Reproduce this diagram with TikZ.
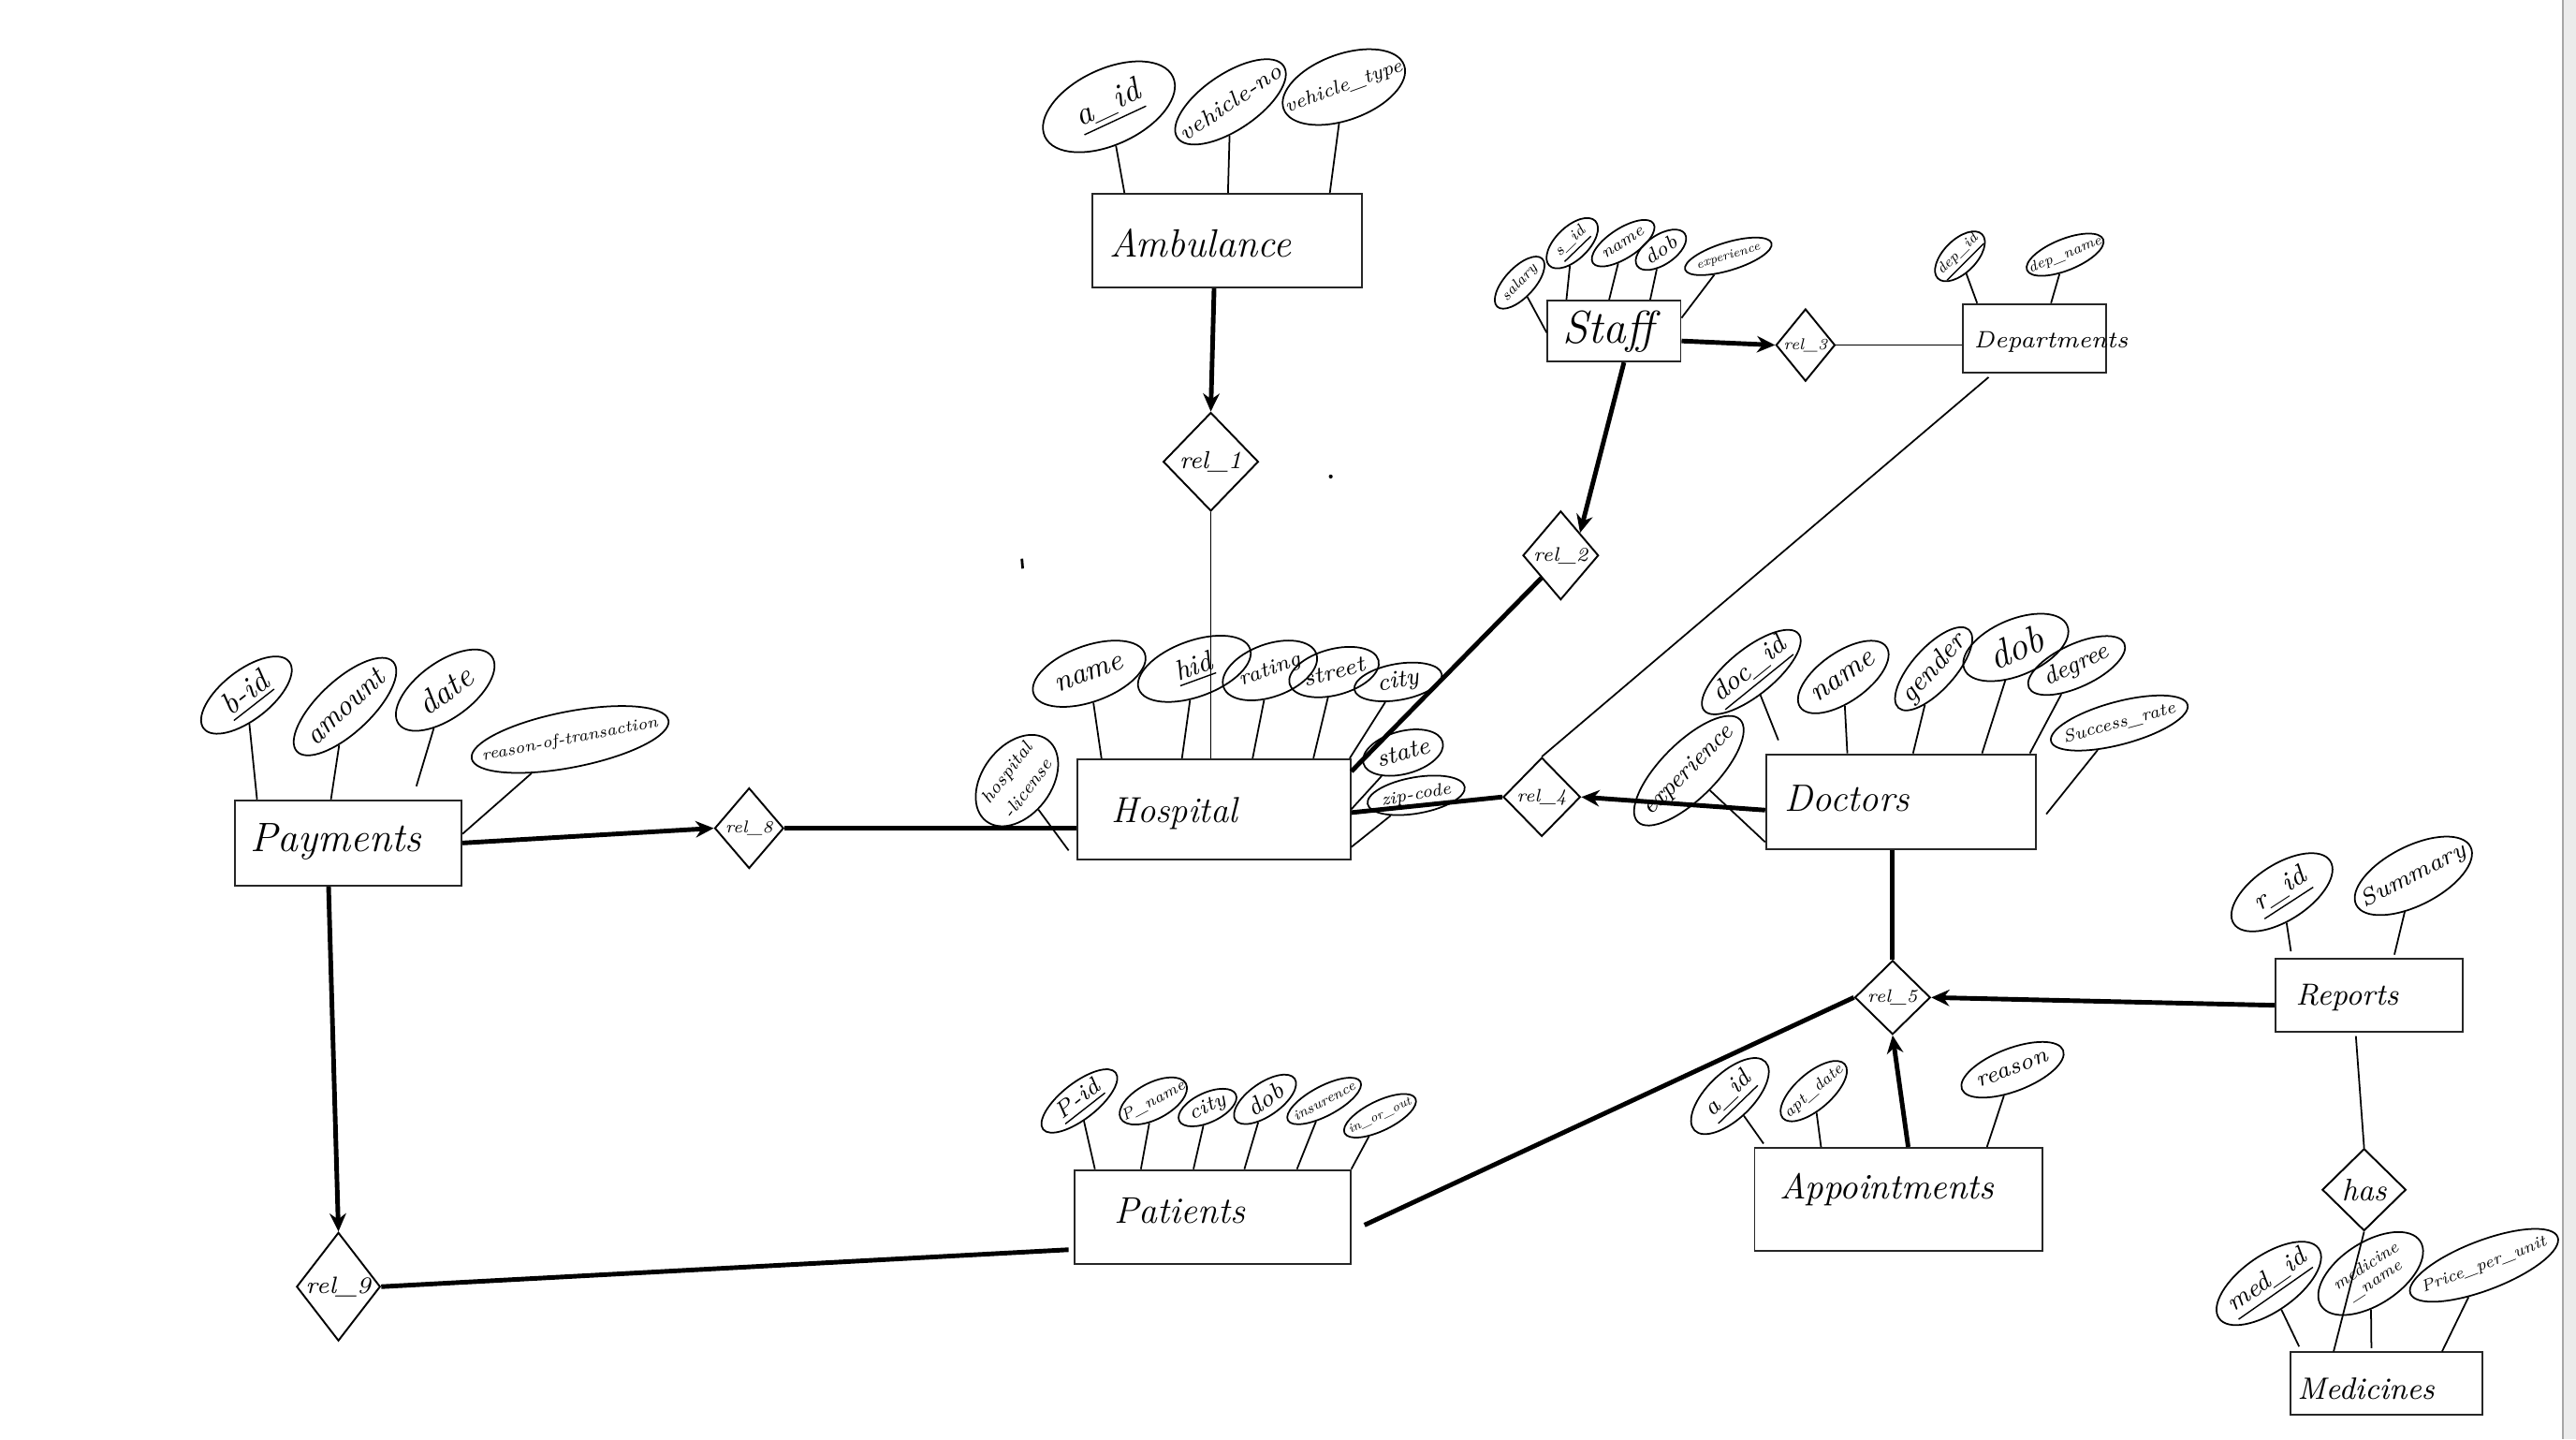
\documentclass[tikz,border=0pt]{standalone}
\usetikzlibrary{shapes.geometric,arrows.meta}
\newcommand\hsz[1]{\fontsize{#1}{#1}\selectfont\itshape}
\newcommand\zw[1]{\makebox[0pt]{#1}}
\begin{document}
\begin{tikzpicture}[x=0.5pt,y=-0.5pt,
  entity/.style={draw=black!85, line width=0.55pt, inner sep=0pt},
  etext/.style={anchor=west, inner sep=0pt},
  rel/.style={draw, diamond, aspect=1, inner sep=0pt, line width=0.55pt},
  attr/.style={draw, ellipse, inner sep=0pt, line width=0.5pt},
  conn/.style={line width=0.5pt},
  strong/.style={line width=1.4pt},
  arr/.style={strong, -{Stealth[length=5.5pt,width=5pt]}},
]
\useasboundingbox (0,0) rectangle (1568,876);
\fill[white] (0,0) rectangle (1568,876);
\fill[black!8] (1560,0) rectangle (1568,876);
\draw[black!35, line width=0.6pt] (1560,0) -- (1560,876);

% ---------- entities ----------
\node[entity, minimum width=82pt, minimum height=28.5pt] (amb) at (747,146.5) {};
\node[etext, font=\hsz{12}] (ambt) at (675,148) {Ambulance};
\node[entity, minimum width=40.5pt, minimum height=18.5pt] (staff) at (982.5,201.5) {};
\node[etext, font=\hsz{14}] (stafft) at (951,202) {Staff};
\node[entity, minimum width=43.5pt, minimum height=21pt] (dept) at (1238.5,206) {};
\node[etext, font=\hsz{7.2}] (deptt) at (1201,208) {Departments};
\node[entity, minimum width=83pt, minimum height=30.5pt] (hosp) at (739,492.5) {};
\node[etext, font=\hsz{11}] (hospt) at (676,495) {Hospital};
\node[entity, minimum width=69pt, minimum height=26pt] (pay) at (212,513) {};
\node[etext, font=\hsz{12.5}] (payt) at (152,512) {Payments};
\node[entity, minimum width=82pt, minimum height=29pt] (doc) at (1157,488) {};
\node[etext, font=\hsz{11.6}] (doct) at (1086,486) {Doctors};
\node[entity, minimum width=84pt, minimum height=28.5pt] (pat) at (738,740.5) {};
\node[etext, font=\hsz{11.3}] (patt) at (678,737) {Patients};
\node[entity, minimum width=87.5pt, minimum height=31.25pt] (appt) at (1155.5,729.75) {};
\node[etext, font=\hsz{10.9}] (apptt) at (1083,724) {Appointments};
\node[entity, minimum width=57pt, minimum height=22.25pt] (rep) at (1442,605.75) {};
\node[etext, font=\hsz{9.3}] (rept) at (1397,607) {Reports};
\node[entity, minimum width=58.5pt, minimum height=19pt] (med) at (1452.5,842) {};
\node[etext, font=\hsz{9.4}] (medt) at (1398,845) {Medicines};

% ---------- relationships ----------
\node[rel, minimum width=29pt, minimum height=30pt, font=\hsz{7.5}] (r1) at (737,281) {\zw{rel\_1}};
\node[rel, minimum width=23pt, minimum height=27pt, font=\hsz{6}] (r2) at (950,338) {\zw{rel\_2}};
\node[rel, minimum width=18pt, minimum height=22pt, font=\hsz{4.8}] (r3) at (1099,210) {\zw{rel\_3}};
\node[rel, minimum width=23.5pt, minimum height=24pt, font=\hsz{5.5}] (r4) at (938.5,485) {\zw{rel\_4}};
\node[rel, minimum width=21pt, minimum height=24.5pt, font=\hsz{5.2}] (r8) at (456,504) {\zw{rel\_8}};
\node[rel, minimum width=23pt, minimum height=22.5pt, font=\hsz{5.5}] (r5) at (1152,607) {\zw{rel\_5}};
\node[rel, minimum width=25.5pt, minimum height=33pt, font=\hsz{7.2}] (r9) at (206,783) {\zw{rel\_9}};
\node[rel, minimum width=25.5pt, minimum height=25pt, font=\hsz{9.5}] (has) at (1439,724) {\zw{has}};

% ---------- attributes: Ambulance ----------
\node[attr, minimum width=43pt, minimum height=23pt, rotate=25, font=\hsz{10}] (aaid) at (675,65) {\zw{\underline{a\_id}}};
\node[attr, minimum width=39pt, minimum height=17pt, rotate=34, font=\hsz{7}] (avno) at (749,62) {\zw{vehicle-no}};
\node[attr, minimum width=39pt, minimum height=20pt, rotate=20, font=\hsz{5.9}] (avty) at (818,53) {\zw{vehicle\_type}};
\draw[conn] (aaid) -- ([xshift=10pt]amb.north west);
\draw[conn] (avno) -- ([xshift=41.5pt]amb.north west);
\draw[conn] (avty) -- ([xshift=72.5pt]amb.north west);

% ---------- attributes: Staff ----------
\node[attr, minimum width=20pt, minimum height=9pt, rotate=47, font=\hsz{4.5}] (ssal) at (925,172) {\zw{salary}};
\node[attr, minimum width=19.5pt, minimum height=10pt, rotate=44, font=\hsz{4.8}] (ssid) at (957,148) {\zw{\underline{s\_id}}};
\node[attr, minimum width=22pt, minimum height=9pt, rotate=33, font=\hsz{5.2}] (snam) at (988,148) {\zw{name}};
\node[attr, minimum width=17.5pt, minimum height=9pt, rotate=34, font=\hsz{6.2}] (sdob) at (1011,152) {\zw{dob}};
\node[attr, minimum width=27.5pt, minimum height=8.5pt, rotate=17, font=\hsz{3.8}] (sexp) at (1052,156) {\zw{experience}};
\draw[conn] (ssal) -- ([yshift=-10pt]staff.north west);
\draw[conn] (ssid) -- ([xshift=6pt]staff.north west);
\draw[conn] (snam) -- ([xshift=19pt]staff.north west);
\draw[conn] (sdob) -- ([xshift=31.5pt]staff.north west);
\draw[conn] (sexp) -- ([yshift=-5.5pt]staff.north east);

% ---------- attributes: Departments ----------
\node[attr, minimum width=19pt, minimum height=10pt, rotate=45, font=\hsz{4.4}] (ddid) at (1193,156) {\zw{\underline{dep\_id}}};
\node[attr, minimum width=25pt, minimum height=9.5pt, rotate=22, font=\hsz{4.4}] (ddnm) at (1257,155) {\zw{dep\_name}};
\draw[conn] (ddid) -- ([xshift=4.5pt]dept.north west);
\draw[conn] (ddnm) -- ([xshift=27pt]dept.north west);

% ---------- attributes: Hospital ----------
\node[attr, minimum width=36pt, minimum height=17pt, rotate=20, font=\hsz{9}] (hnam) at (663,410) {\zw{name}};
\node[attr, minimum width=36pt, minimum height=17pt, rotate=20, font=\hsz{8.5}] (hhid) at (727,407) {\zw{\underline{hid}}};
\node[attr, minimum width=30pt, minimum height=16pt, rotate=20, font=\hsz{6.5}] (hrat) at (773,408) {\zw{rating}};
\node[attr, minimum width=28pt, minimum height=14pt, rotate=15, font=\hsz{7}] (hstr) at (812,409) {\zw{street}};
\node[attr, minimum width=27pt, minimum height=11pt, rotate=10, font=\hsz{7.5}] (hcit) at (851,415) {\zw{city}};
\node[attr, minimum width=25pt, minimum height=13pt, rotate=15, font=\hsz{7.5}] (hsta) at (854,458) {\zw{state}};
\node[attr, minimum width=30pt, minimum height=11pt, rotate=10, font=\hsz{5.3}] (hzip) at (862,484) {\zw{zip-code}};
\node[attr, minimum width=31pt, minimum height=21pt, rotate=53, font=\hsz{5.5}] (hlic) at (619,475) {\zw{\shortstack{hospital\\-license}}};
\draw[conn] (hnam) -- ([xshift=7.5pt]hosp.north west);
\draw[conn] (hhid) -- ([xshift=32pt]hosp.north west);
\draw[conn] (hrat) -- ([xshift=53.5pt]hosp.north west);
\draw[conn] (hstr) -- ([xshift=72pt]hosp.north west);
\draw[conn] (hcit) -- ([xshift=-0.5pt]hosp.north east);
\draw[conn] (hsta) -- ([yshift=-15.5pt]hosp.north east);
\draw[conn] (hzip) -- ([yshift=-27pt]hosp.north east);
\draw[conn] (hlic) -- ([xshift=-2.5pt,yshift=3pt]hosp.south west);

% ---------- attributes: Payments ----------
\node[attr, minimum width=33pt, minimum height=15pt, rotate=38, font=\hsz{9.5}] (pbid) at (150,423) {\zw{\underline{b-id}}};
\node[attr, minimum width=40pt, minimum height=16pt, rotate=43, font=\hsz{8.8}] (pamt) at (210,430) {\zw{amount}};
\node[attr, minimum width=35pt, minimum height=17pt, rotate=36, font=\hsz{10}] (pdat) at (271,420) {\zw{date}};
\node[attr, minimum width=61pt, minimum height=17pt, rotate=11, font=\hsz{5}] (prsn) at (347,450) {\zw{reason-of-transaction}};
\draw[conn] (pbid) -- ([xshift=7pt]pay.north west);
\draw[conn] (pamt) -- ([xshift=29.5pt]pay.north west);
\draw[conn] (pdat) -- ([xshift=55.5pt,yshift=4pt]pay.north west);
\draw[conn] (prsn) -- ([yshift=-10.5pt]pay.north east);

% ---------- attributes: Doctors ----------
\node[attr, minimum width=37pt, minimum height=14pt, rotate=39, font=\hsz{8.3}] (ddoc) at (1066,409) {\zw{\underline{doc\_id}}};
\node[attr, minimum width=32pt, minimum height=15pt, rotate=35, font=\hsz{9}] (dnam) at (1122,412) {\zw{name}};
\node[attr, minimum width=32pt, minimum height=13pt, rotate=48, font=\hsz{8.3}] (dgen) at (1177,407) {\zw{gender}};
\node[attr, minimum width=34pt, minimum height=17pt, rotate=23, font=\hsz{12}] (ddob) at (1227,394) {\zw{dob}};
\node[attr, minimum width=32pt, minimum height=13pt, rotate=25, font=\hsz{7.5}] (ddeg) at (1264,405) {\zw{degree}};
\node[attr, minimum width=43pt, minimum height=13pt, rotate=15, font=\hsz{5.3}] (dsuc) at (1290,440) {\zw{Success\_rate}};
\node[attr, minimum width=44pt, minimum height=17pt, rotate=45, font=\hsz{7.5}] (dexp) at (1028,469) {\zw{experience}};
\draw[conn] (ddoc) -- ([xshift=4pt,yshift=4pt]doc.north west);
\draw[conn] (dnam) -- ([xshift=25pt]doc.north west);
\draw[conn] (dgen) -- ([xshift=45pt]doc.north west);
\draw[conn] (ddob) -- ([xshift=66pt]doc.north west);
\draw[conn] (ddeg) -- ([xshift=-2pt]doc.north east);
\draw[conn] (dsuc) -- ([xshift=3pt,yshift=-18.5pt]doc.north east);
\draw[conn] (dexp) -- ([yshift=-27pt]doc.north west);

% ---------- attributes: Patients ----------
\node[attr, minimum width=28pt, minimum height=11pt, rotate=38, font=\hsz{7}] (ppid) at (657,670) {\zw{\underline{P-id}}};
\node[attr, minimum width=22.5pt, minimum height=11pt, rotate=28, font=\hsz{4.8}] (ppnm) at (702,670) {\zw{P\_name}};
\node[attr, minimum width=19pt, minimum height=9pt, rotate=25, font=\hsz{6.3}] (pcit) at (735,674) {\zw{city}};
\node[attr, minimum width=22pt, minimum height=10pt, rotate=35, font=\hsz{7.5}] (pdob) at (770,669) {\zw{dob}};
\node[attr, minimum width=25pt, minimum height=9pt, rotate=28, font=\hsz{4.3}] (pins) at (806,670) {\zw{insurence}};
\node[attr, minimum width=24pt, minimum height=9pt, rotate=26, font=\hsz{3.8}] (pino) at (840,679) {\zw{in\_or\_out}};
\draw[conn] (ppid) -- ([xshift=6.5pt]pat.north west);
\draw[conn] (ppnm) -- ([xshift=20.5pt]pat.north west);
\draw[conn] (pcit) -- ([xshift=36.5pt]pat.north west);
\draw[conn] (pdob) -- ([xshift=52pt]pat.north west);
\draw[conn] (pins) -- ([xshift=68pt]pat.north west);
\draw[conn] (pino) -- (pat.north east);

% ---------- attributes: Appointments ----------
\node[attr, minimum width=30pt, minimum height=14pt, rotate=44, font=\hsz{7.5}] (aaid2) at (1053,667) {\zw{\underline{a\_id}}};
\node[attr, minimum width=25pt, minimum height=11pt, rotate=41, font=\hsz{4.8}] (aapt) at (1104,664) {\zw{apt\_date}};
\node[attr, minimum width=33pt, minimum height=13pt, rotate=21, font=\hsz{7}] (arsn) at (1225,651) {\zw{reason}};
\draw[conn] (aaid2) -- ([xshift=3pt,yshift=1pt]appt.north west);
\draw[conn] (aapt) -- ([xshift=20.5pt]appt.north west);
\draw[conn] (arsn) -- ([xshift=71pt]appt.north west);

% ---------- attributes: Reports ----------
\node[attr, minimum width=35pt, minimum height=17pt, rotate=33, font=\hsz{8.3}] (rrid) at (1389,543) {\zw{\underline{r\_id}}};
\node[attr, minimum width=39pt, minimum height=18pt, rotate=27, font=\hsz{7.2}] (rsum) at (1469,533) {\zw{Summary}};
\draw[conn] (rrid) -- ([xshift=5pt,yshift=2pt]rep.north west);
\draw[conn] (rsum) -- ([xshift=36.5pt,yshift=1pt]rep.north west);

% ---------- attributes: Medicines ----------
\node[attr, minimum width=37pt, minimum height=17pt, rotate=35, font=\hsz{7.8}] (mmid) at (1381,781) {\zw{\underline{med\_id}}};
\node[attr, minimum width=36pt, minimum height=19pt, rotate=33, font=\hsz{5}] (mmnm) at (1443,775) {\zw{\shortstack{medicine\\\_name}}};
\node[attr, minimum width=48pt, minimum height=15pt, rotate=21, font=\hsz{5}] (mppu) at (1512,770) {\zw{Price\_per\_unit}};
\draw[conn] (mmid) -- ([xshift=3pt,yshift=1.5pt]med.north west);
\draw[conn] (mmnm) -- ([xshift=25pt,yshift=1pt]med.north west);
\draw[conn] (mppu) -- ([xshift=46.5pt]med.north west);

% ---------- relationship connectors ----------
\draw[arr] ([xshift=-4pt]amb.south) -- (r1.north);
\draw[conn] (r1.south) -- (r1.south |- hosp.north);
\draw[arr] ([xshift=3pt]staff.south) -- (r2.north east);
\draw[strong] (r2.south west) -- ([yshift=-4pt]hosp.north east);
\draw[arr] ([yshift=-3pt]staff.east) -- (r3.west);
\draw[conn] (r3.east) -- (r3.east -| dept.west);
\draw[conn] ([xshift=8pt,yshift=-1pt]dept.south west) -- (r4.north);
\draw[arr] ([yshift=-2.5pt]doc.west) -- (r4.east);
\draw[strong] (r4.west) -- ([yshift=-1pt]hosp.east);
\draw[arr] (pay.east) -- (r8.west);
\draw[strong] (r8.east) -- (r8.east -| hosp.west);
\draw[arr] ([xshift=-6pt]pay.south) -- (r9.north);
\draw[strong] (r9.east) -- ([xshift=-1.5pt,yshift=-10pt]pat.west);
\draw[strong] ([xshift=4pt,yshift=-2.5pt]pat.east) -- (r5.west);
\draw[strong] ([xshift=-2.5pt]doc.south) -- (r5.north);
\draw[arr] ([xshift=3pt]appt.north) -- (r5.south);
\draw[arr] ([yshift=-3pt]rep.west) -- (r5.east);
\draw[conn] ([xshift=-4pt,yshift=-1pt]rep.south) -- (has.north);
\draw[conn] (has.south) -- ([xshift=13.5pt]med.north west);

% stray pen marks
\draw[line width=0.8pt] (622,340) -- (622.5,346);
\fill (810,290) circle[radius=0.6pt];
\end{tikzpicture}
\end{document}
